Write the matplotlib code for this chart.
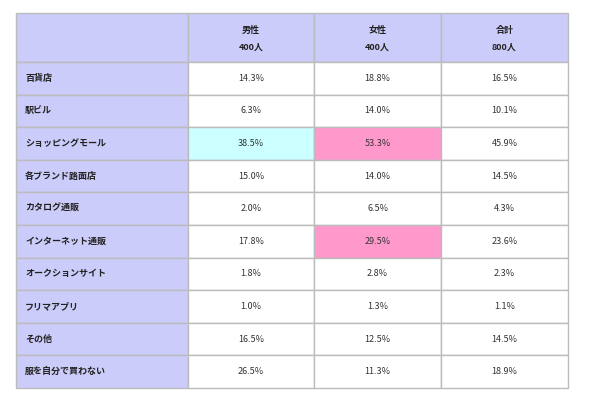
import matplotlib
matplotlib.use('Agg')
import matplotlib.pyplot as plt
from matplotlib.patches import Rectangle

plt.rcParams['font.family'] = ['Noto Sans CJK JP', 'DejaVu Sans']

# data
columns = ['男性', '女性', '合計']
counts = ['400人', '400人', '800人']
rows = ['百貨店', '駅ビル', 'ショッピングモール', '各ブランド路面店', 'カタログ通販',
        'インターネット通販', 'オークションサイト', 'フリマアプリ', 'その他', '服を自分で買わない']
male = [14.3, 6.3, 38.5, 15.0, 2.0, 17.8, 1.8, 1.0, 16.5, 26.5]
female = [18.8, 14.0, 53.3, 14.0, 6.5, 29.5, 2.8, 1.3, 12.5, 11.3]
total = [16.5, 10.1, 45.9, 14.5, 4.3, 23.6, 2.3, 1.1, 14.5, 18.9]

# highlighted cells (row, col) -> colour
highlight = {(2, 0): '#ccffff', (2, 1): '#ff99cc', (5, 1): '#ff99cc'}

# layout in pixels
col_edges = [16, 188, 314, 441, 568]
top = 13
head_h = 49
row_h = 32.6
head_bg = '#ccccfa'
line = '#bcbcbc'

fig = plt.figure(figsize=(6, 4), dpi=100)
ax = fig.add_axes([0, 0, 1, 1])
ax.set_xlim(0, 600)
ax.set_ylim(400, 0)
ax.axis('off')

values = [male, female, total]

def cell(x0, x1, y0, y1, color):
    ax.add_patch(Rectangle((x0, y0), x1 - x0, y1 - y0, facecolor=color,
                           edgecolor=line, linewidth=1))

# header row
for c in range(4):
    cell(col_edges[c], col_edges[c + 1], top, top + head_h, head_bg)
for c, name in enumerate(columns):
    xc = (col_edges[c + 1] + col_edges[c + 2]) / 2
    ax.text(xc, top + 17, name, ha='center', va='center', fontsize=6.5,
            fontweight='bold', color='#222222')
    ax.text(xc, top + 34, counts[c], ha='center', va='center', fontsize=6.5,
            fontweight='bold', color='#222222')

# body rows
for r, label in enumerate(rows):
    y0 = top + head_h + r * row_h
    y1 = y0 + row_h
    cell(col_edges[0], col_edges[1], y0, y1, head_bg)
    ax.text(col_edges[0] + 9, (y0 + y1) / 2, label, ha='left', va='center',
            fontsize=6.5, fontweight='bold', color='#222222')
    for c in range(3):
        color = highlight.get((r, c), 'white')
        cell(col_edges[c + 1], col_edges[c + 2], y0, y1, color)
        ax.text((col_edges[c + 1] + col_edges[c + 2]) / 2, (y0 + y1) / 2,
                f'{values[c][r]:.1f}%', ha='center', va='center',
                fontsize=6.5, color='#333333')

fig.savefig('out.png', dpi=100)
